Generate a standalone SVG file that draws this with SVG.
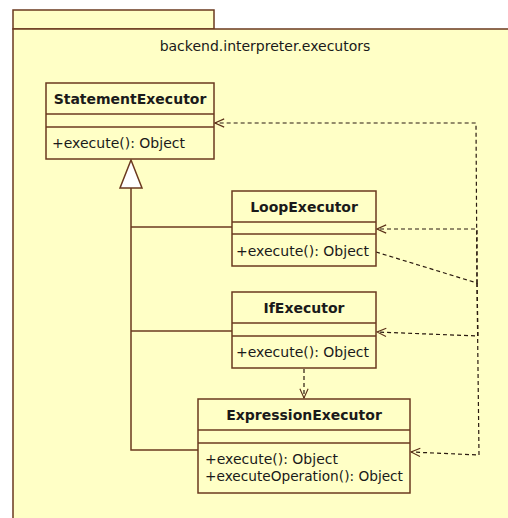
<svg xmlns="http://www.w3.org/2000/svg" width="508" height="518" viewBox="0 0 508 518">
  <defs>
    <style>
      .pkg { fill: #FFFFC6; stroke: #6B3A1F; stroke-width: 1.5; }
      .cls { fill: #FFFFC6; stroke: #6B3A1F; stroke-width: 1.5; }
      .div { stroke: #6B3A1F; stroke-width: 1.5; fill: none; }
      .gen { stroke: #6B3A1F; stroke-width: 1.5; fill: none; }
      .dep { stroke: #2A1A10; stroke-width: 1.2; fill: none; stroke-dasharray: 4 3; }
      .name { font-family: "DejaVu Sans", "Liberation Sans", sans-serif; font-size: 14px; font-weight: bold; fill: #1A1A1A; text-anchor: middle; }
      .op { font-family: "DejaVu Sans", "Liberation Sans", sans-serif; font-size: 14px; fill: #1A1A1A; }
      .title { font-family: "DejaVu Sans", "Liberation Sans", sans-serif; font-size: 14px; fill: #1A1A1A; text-anchor: middle; }
    </style>
    <marker id="open" viewBox="0 0 12 12" refX="11" refY="6" markerWidth="11" markerHeight="11" markerUnits="userSpaceOnUse" orient="auto">
      <path d="M1,1.5 L11,6 L1,10.5" fill="none" stroke="#5A3018" stroke-width="1.2"/>
    </marker>
  </defs>

  <rect width="508" height="518" fill="#FFFFFF"/>

  <!-- package frame -->
  <g id="package">
    <rect class="pkg" x="13" y="10" width="201" height="19"/>
    <rect class="pkg" x="13" y="29" width="500" height="500"/>
    <text class="title" x="265" y="51">backend.interpreter.executors</text>
  </g>

  <!-- generalization and dependency connectors -->
  <g id="connectors">
    <polyline class="gen" points="131,188 131,450 198,450"/>
    <line class="gen" x1="131" y1="227" x2="232" y2="227"/>
    <line class="gen" x1="131" y1="331" x2="232" y2="331"/>
    <polygon points="131,160 120,188 142,188" fill="#FFFFFF" stroke="#6B3A1F" stroke-width="1.5"/>

    <path class="dep" d="M376,252 L477,283 L476,123 L215,123" marker-end="url(#open)"/>
    <path class="dep" d="M477,283 L477,229 L377,229" marker-end="url(#open)"/>
    <path class="dep" d="M477,283 L478,336 L377,332" marker-end="url(#open)"/>
    <path class="dep" d="M477,283 L479,455 L411,452" marker-end="url(#open)"/>
    <path class="dep" d="M304,369 L304,398" marker-end="url(#open)"/>
  </g>

  <g id="StatementExecutor">
    <rect class="cls" x="46" y="83" width="168" height="76"/>
    <line class="div" x1="46" y1="114" x2="214" y2="114"/>
    <line class="div" x1="46" y1="127" x2="214" y2="127"/>
    <text class="name" x="130" y="104">StatementExecutor</text>
    <text class="op" x="52" y="148">+execute(): Object</text>
  </g>

  <g id="LoopExecutor">
    <rect class="cls" x="232" y="191" width="144" height="75"/>
    <line class="div" x1="232" y1="222" x2="376" y2="222"/>
    <line class="div" x1="232" y1="234" x2="376" y2="234"/>
    <text class="name" x="304" y="212">LoopExecutor</text>
    <text class="op" x="236" y="256">+execute(): Object</text>
  </g>

  <g id="IfExecutor">
    <rect class="cls" x="232" y="292" width="144" height="76"/>
    <line class="div" x1="232" y1="323" x2="376" y2="323"/>
    <line class="div" x1="232" y1="336" x2="376" y2="336"/>
    <text class="name" x="304" y="313">IfExecutor</text>
    <text class="op" x="236" y="357">+execute(): Object</text>
  </g>

  <g id="ExpressionExecutor">
    <rect class="cls" x="198" y="399" width="212" height="94"/>
    <line class="div" x1="198" y1="430" x2="410" y2="430"/>
    <line class="div" x1="198" y1="443" x2="410" y2="443"/>
    <text class="name" x="304" y="420">ExpressionExecutor</text>
    <text class="op" x="205" y="464">+execute(): Object</text>
    <text class="op" x="205" y="481" textLength="198" lengthAdjust="spacingAndGlyphs">+executeOperation(): Object</text>
  </g>
</svg>
